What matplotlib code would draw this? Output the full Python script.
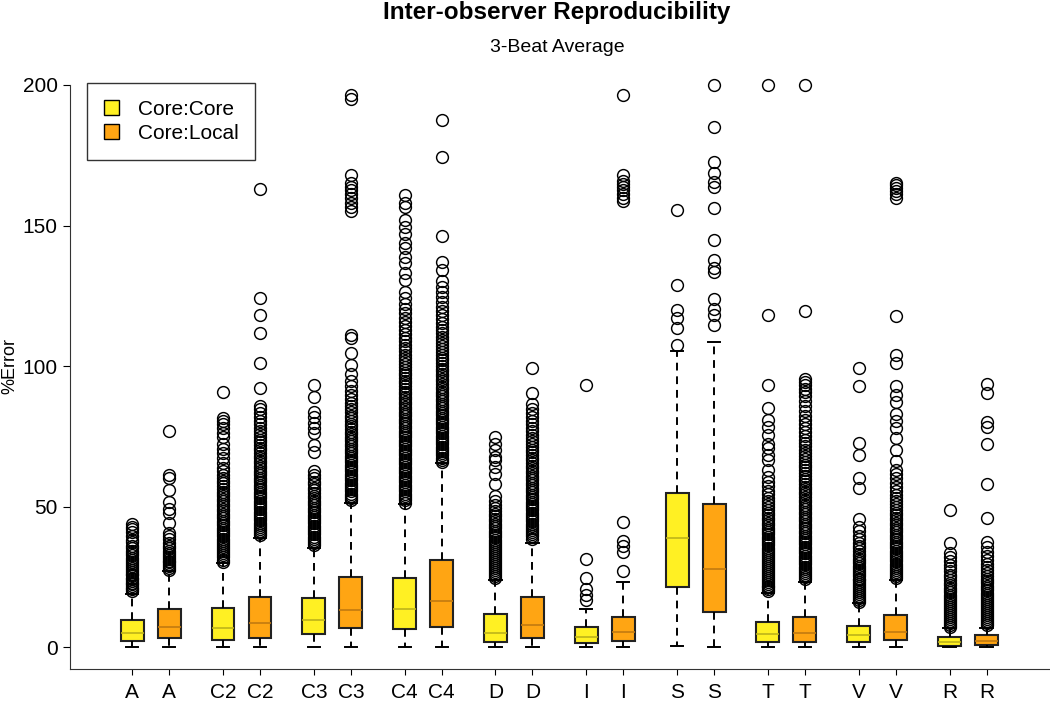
import matplotlib
matplotlib.use('Agg')
import matplotlib.pyplot as plt
from matplotlib.patches import Patch

plt.rcParams['font.family'] = ['Liberation Sans', 'DejaVu Sans']

YELLOW = '#FFF023'
ORANGE = '#FFA513'
YELLOW_MED = '#BDB31A'
ORANGE_MED = '#C27A10'

# ---------------- data ----------------
labels = ['A', 'A', 'C2', 'C2', 'C3', 'C3', 'C4', 'C4', 'D', 'D',
          'I', 'I', 'S', 'S', 'T', 'T', 'V', 'V', 'R', 'R']

q1 = [2.1, 3.2, 2.5, 3.2, 4.6, 6.8, 6.4, 7.1, 1.8, 3.2,
      1.4, 2.1, 21.4, 12.5, 1.8, 1.8, 1.8, 2.5, 0.4, 0.7]
med = [5.0, 7.1, 6.8, 8.5, 9.6, 13.2, 13.5, 16.4, 5.0, 7.8,
       3.6, 5.3, 38.8, 27.8, 4.6, 5.0, 4.3, 5.3, 1.8, 2.1]
q3 = [9.6, 13.5, 13.9, 17.8, 17.4, 24.9, 24.6, 31.0, 11.7, 17.8,
      7.1, 10.7, 54.8, 50.9, 8.9, 10.7, 7.5, 11.4, 3.6, 4.3]
whislo = [0.0, 0.0, 0.0, 0.0, 0.0, 0.0, 0.0, 0.0, 0.0, 0.0,
          0.0, 0.0, 0.4, 0.0, 0.0, 0.0, 0.0, 0.0, 0.0, 0.0]
whishi = [19.0, 27.0, 30.0, 38.8, 35.2, 51.2, 51.0, 65.5, 23.8, 37.0,
          13.5, 23.1, 105.5, 108.5, 19.2, 23.1, 15.6, 23.8, 6.8, 6.8]

A_core_fl = [20.0, 20.5, 21.1, 21.8, 22.3, 22.9, 23.6, 24.2, 24.7, 25.5, 26.1, 26.8,
             27.4, 28.1, 28.9, 29.5, 30.3, 31.0, 31.8, 32.6, 33.5, 34.2, 35.4, 36.1,
             37.5, 38.2, 39.6, 40.8, 41.9, 42.8, 43.7]
A_local_fl = [27.6, 28.2, 28.9, 29.5, 30.1, 30.8, 31.4, 32.1, 32.9, 33.6, 34.3, 35.2,
              36.0, 37.1, 38.4, 39.6, 40.5, 44.3, 47.6, 49.2, 51.5, 55.8, 60.1, 61.3, 76.9]
C2_core_fl = [30.4, 31.1, 31.9, 32.6, 33.3, 34.1, 34.8, 35.6, 36.4, 37.1, 37.9, 38.6,
              39.4, 40.2, 41.0, 41.7, 42.5, 43.3, 44.2, 45.0, 45.8, 46.7, 47.5, 48.4,
              49.3, 50.1, 51.0, 51.9, 52.8, 53.6, 54.5, 55.3, 56.4, 57.2, 58.3, 59.1,
              60.2, 61.4, 62.5, 63.8, 65.6, 67.2, 69.0, 70.5, 72.4, 74.8, 76.3, 78.1,
              79.2, 80.4, 81.6, 90.7]
C2_local_fl = [39.8, 40.6, 41.3, 42.1, 42.8, 43.6, 44.3, 45.1, 45.9, 46.6, 47.4, 48.2,
               49.0, 49.7, 50.5, 51.3, 52.1, 52.9, 53.7, 54.5, 55.3, 56.1, 56.9, 57.8,
               58.6, 59.4, 60.3, 61.1, 62.0, 62.8, 63.7, 64.5, 65.4, 66.3, 67.2, 68.1,
               69.0, 70.0, 70.9, 71.8, 72.8, 73.8, 74.9, 75.8, 76.9, 78.1, 79.3, 80.5,
               82.0, 83.4, 84.6, 85.9, 92.3, 101.2, 111.8, 118.2, 124.1, 163.0]
C3_core_fl = [36.2, 37.0, 37.8, 38.5, 39.3, 40.1, 40.8, 41.6, 42.4, 43.2, 44.0, 44.7,
              45.5, 46.3, 47.1, 47.9, 48.8, 49.6, 50.4, 51.3, 52.1, 53.0, 53.9, 54.8,
              55.8, 56.7, 57.9, 58.8, 60.1, 61.4, 62.7, 69.4, 72.0, 76.2, 77.8, 79.6,
              81.9, 83.8, 89.1, 93.2]
C3_local_fl = [52.3, 53.1, 53.9, 54.6, 55.4, 56.2, 57.0, 57.8, 58.5, 59.3, 60.1, 60.9,
               61.7, 62.5, 63.3, 64.1, 64.9, 65.7, 66.5, 67.3, 68.1, 69.0, 69.8, 70.6,
               71.5, 72.3, 73.2, 74.0, 74.9, 75.8, 76.7, 77.6, 78.5, 79.5, 80.4, 81.4,
               82.4, 83.5, 84.6, 85.8, 87.0, 88.3, 89.6, 91.2, 92.8, 94.6, 97.0, 100.2,
               104.8, 109.9, 111.0, 155.2, 156.6, 158.1, 159.9, 161.2, 162.5, 163.6,
               165.3, 167.8, 195.0, 196.3]
C4_core_fl = [51.4, 52.3, 53.0, 53.9, 54.6, 55.5, 56.2, 57.1, 57.8, 58.7, 59.4, 60.3,
              61.0, 61.9, 62.6, 63.5, 64.2, 65.1, 65.8, 66.7, 67.4, 68.3, 69.0, 69.9,
              70.6, 71.5, 72.2, 73.1, 73.8, 74.7, 75.4, 76.3, 77.0, 77.9, 78.7, 79.6,
              80.4, 81.2, 82.1, 82.9, 83.8, 84.7, 85.5, 86.4, 87.3, 88.2, 89.1, 90.0,
              90.9, 91.9, 92.8, 93.8, 94.7, 95.7, 96.7, 97.7, 98.7, 99.8, 100.8, 101.9,
              103.0, 104.1, 105.3, 106.4, 107.6, 108.9, 110.1, 111.4, 112.8, 114.2,
              115.6, 117.1, 118.7, 120.3, 122.0, 124.2, 126.5, 130.6, 133.1, 136.7,
              138.8, 142.0, 143.8, 147.0, 149.5, 152.1, 156.6, 158.0, 160.8]
C4_local_fl = [65.9, 66.7, 67.4, 68.2, 69.0, 69.7, 70.5, 71.3, 72.1, 72.9, 73.6, 74.4,
               75.2, 76.0, 76.8, 77.6, 78.4, 79.2, 80.0, 80.8, 81.6, 82.5, 83.3, 84.1,
               84.9, 85.8, 86.6, 87.5, 88.3, 89.2, 90.0, 90.9, 91.8, 92.7, 93.6, 94.5,
               95.4, 96.3, 97.2, 98.2, 99.1, 100.1, 101.0, 102.0, 103.0, 104.0, 105.0,
               106.1, 107.1, 108.2, 109.3, 110.4, 111.6, 112.8, 114.0, 115.3, 116.6,
               118.0, 119.5, 121.0, 122.7, 124.6, 126.5, 128.3, 130.1, 134.0, 136.9,
               146.4, 174.5, 187.5]
D_core_fl = [24.6, 25.3, 26.0, 26.7, 27.4, 28.1, 28.8, 29.5, 30.2, 30.9, 31.6, 32.3,
             33.0, 33.8, 34.5, 35.2, 36.0, 36.7, 37.5, 38.2, 39.0, 39.8, 40.6, 41.4,
             42.2, 43.0, 43.9, 44.7, 45.6, 46.5, 47.4, 48.4, 49.5, 50.6, 52.0, 53.8,
             57.9, 61.6, 64.0, 66.4, 67.5, 70.1, 72.3, 74.6]
D_local_fl = [38.6, 39.4, 40.1, 40.9, 41.6, 42.4, 43.1, 43.9, 44.7, 45.4, 46.2, 47.0,
              47.8, 48.6, 49.4, 50.2, 51.0, 51.8, 52.6, 53.4, 54.2, 55.1, 55.9, 56.7,
              57.6, 58.4, 59.3, 60.1, 61.0, 61.9, 62.8, 63.7, 64.6, 65.5, 66.4, 67.4,
              68.3, 69.3, 70.3, 71.3, 72.3, 73.4, 74.5, 75.6, 76.8, 78.0, 79.2, 80.5,
              81.9, 83.4, 84.8, 86.5, 90.3, 99.2]
I_core_fl = [16.7, 18.5, 20.6, 24.5, 31.3, 93.2]
I_local_fl = [27.0, 34.0, 36.1, 37.7, 44.5, 158.6, 159.8, 161.2, 162.5, 163.6, 164.6,
              165.7, 167.9, 196.4]
S_core_fl = [107.5, 113.5, 117.0, 120.1, 128.8, 155.5]
S_local_fl = [114.6, 118.0, 120.2, 124.0, 133.4, 135.0, 137.7, 144.8, 156.2, 163.7,
              165.5, 168.7, 172.6, 185.0, 200.0]
T_core_fl = [19.8, 20.5, 21.2, 21.9, 22.6, 23.3, 24.0, 24.7, 25.4, 26.1, 26.8, 27.5,
             28.2, 28.9, 29.6, 30.3, 31.0, 31.7, 32.5, 33.2, 33.9, 34.7, 35.4, 36.2,
             36.9, 37.7, 38.5, 39.3, 40.1, 40.9, 41.7, 42.5, 43.4, 44.2, 45.1, 46.0,
             46.9, 47.8, 48.8, 49.8, 50.8, 51.9, 53.0, 54.3, 55.7, 57.2, 58.8, 60.4,
             63.1, 66.5, 68.3, 70.8, 72.4, 75.4, 78.3, 80.8, 84.9, 93.2, 118.0, 200.0]
T_local_fl = [24.1, 24.9, 25.6, 26.4, 27.1, 27.9, 28.6, 29.4, 30.2, 30.9, 31.7, 32.5,
              33.3, 34.1, 34.9, 35.7, 36.5, 37.3, 38.1, 38.9, 39.7, 40.5, 41.3, 42.2,
              43.0, 43.8, 44.7, 45.5, 46.4, 47.2, 48.1, 49.0, 49.8, 50.7, 51.6, 52.5,
              53.4, 54.3, 55.2, 56.1, 57.1, 58.0, 59.0, 59.9, 60.9, 61.9, 62.9, 63.9,
              64.9, 66.0, 67.0, 68.1, 69.2, 70.3, 71.5, 72.6, 73.8, 75.1, 76.4, 77.8,
              79.2, 80.7, 82.3, 84.0, 85.8, 87.6, 89.2, 90.6, 91.8, 93.1, 94.3, 95.5,
              119.6, 200.0]
V_core_fl = [16.0, 16.7, 17.4, 18.1, 18.8, 19.5, 20.2, 20.9, 21.6, 22.3, 23.0, 23.7,
             24.4, 25.2, 25.9, 26.7, 27.4, 28.2, 29.0, 29.8, 30.6, 31.4, 32.3, 33.2,
             34.1, 35.1, 36.1, 37.2, 38.4, 39.7, 41.2, 42.9, 45.6, 56.7, 60.1, 68.3,
             72.6, 93.0, 99.2]
V_local_fl = [24.6, 25.3, 26.0, 26.8, 27.5, 28.2, 29.0, 29.7, 30.5, 31.2, 32.0, 32.8,
              33.5, 34.3, 35.1, 35.9, 36.7, 37.5, 38.3, 39.1, 39.9, 40.8, 41.6, 42.5,
              43.3, 44.2, 45.1, 46.0, 46.9, 47.8, 48.8, 49.8, 50.8, 51.9, 53.0, 54.2,
              55.5, 56.9, 58.4, 60.0, 61.6, 63.1, 66.2, 70.0, 74.4, 78.1, 80.3, 83.0,
              87.2, 89.7, 93.0, 101.2, 104.1, 117.8, 159.9, 161.2, 162.3, 163.4, 164.4,
              165.3]
R_core_fl = [7.3, 8.0, 8.7, 9.4, 10.1, 10.8, 11.5, 12.2, 12.9, 13.6, 14.3, 15.0, 15.7,
             16.4, 17.2, 17.9, 18.7, 19.5, 20.3, 21.1, 22.0, 22.9, 23.8, 24.8, 25.8,
             26.9, 28.0, 29.3, 30.7, 32.1, 33.5, 37.0, 48.8]
R_local_fl = [7.9, 8.6, 9.3, 10.0, 10.7, 11.4, 12.1, 12.8, 13.5, 14.2, 14.9, 15.6,
              16.4, 17.1, 17.9, 18.6, 19.4, 20.2, 21.0, 21.8, 22.7, 23.5, 24.4, 25.3,
              26.3, 27.3, 28.4, 29.6, 30.9, 32.3, 33.9, 35.7, 37.4, 45.9, 57.9, 72.2,
              78.3, 80.1, 90.4, 93.6]

fliers = [A_core_fl, A_local_fl, C2_core_fl, C2_local_fl, C3_core_fl, C3_local_fl,
          C4_core_fl, C4_local_fl, D_core_fl, D_local_fl, I_core_fl, I_local_fl,
          S_core_fl, S_local_fl, T_core_fl, T_local_fl, V_core_fl, V_local_fl,
          R_core_fl, R_local_fl]

# -------------------------------------------------------------

stats = []
for i in range(len(labels)):
    stats.append(dict(med=med[i], q1=q1[i], q3=q3[i], whislo=whislo[i],
                      whishi=whishi[i], fliers=fliers[i]))

# pairs: two boxes per group, wider gap between groups
positions = [(i // 2) * 2.454 + (i % 2) for i in range(len(labels))]

fig = plt.figure(figsize=(10.5, 7.01), dpi=100)
ax = fig.add_axes([70 / 1050, 1 - 669 / 701, 1 - 70 / 1050, (669 - 85) / 701])

bp = ax.bxp(stats, positions=positions, widths=0.62, capwidths=0.33,
            patch_artist=True, showfliers=True,
            boxprops=dict(edgecolor='#222222', linewidth=1.5),
            whiskerprops=dict(color='black', linestyle=(0, (4, 3)), linewidth=1.4),
            capprops=dict(color='black', linewidth=1.4),
            medianprops=dict(linewidth=1.2),
            flierprops=dict(marker='o', markerfacecolor='none', markeredgecolor='black',
                            markersize=8.5, markeredgewidth=1.05))

for i, box in enumerate(bp['boxes']):
    box.set_facecolor(YELLOW if i % 2 == 0 else ORANGE)
for i, m in enumerate(bp['medians']):
    m.set_color(YELLOW_MED if i % 2 == 0 else ORANGE_MED)
for f in bp['fliers']:
    f.set_clip_on(False)

ax.set_xlim(-1.68, 24.8)
ax.set_ylim(-7.8, 200)
ax.spines['top'].set_visible(False)
ax.spines['right'].set_visible(False)
ax.spines['left'].set_color('#333333')
ax.spines['bottom'].set_color('#333333')
ax.set_yticks([0, 50, 100, 150, 200])
ax.set_xticks(positions)
ax.set_xticklabels(labels)
ax.tick_params(axis='y', direction='out', length=5, labelsize=15, pad=4)
ax.tick_params(axis='x', direction='out', length=4, labelsize=15, pad=6)

fig.text(10 / 1050, 1 - 366 / 701, '%Error', rotation=90, ha='center', va='center',
         fontsize=13)
fig.text(557 / 1050, 1 - 13 / 701, 'Inter-observer Reproducibility', ha='center',
         va='center', fontsize=17.5, fontweight='bold')
fig.text(557 / 1050, 1 - 47 / 701, '3-Beat Average', ha='center', va='center',
         fontsize=14)

handles = [Patch(facecolor=YELLOW, edgecolor='black', label='Core:Core'),
           Patch(facecolor=ORANGE, edgecolor='black', label='Core:Local')]
leg = ax.legend(handles=handles, loc='upper left', bbox_to_anchor=(87 / 1050, 1 - 83 / 701),
                bbox_transform=fig.transFigure, fontsize=15, fancybox=False,
                edgecolor='#333333', framealpha=1, handlelength=0.75, handleheight=0.75,
                handletextpad=0.9, borderpad=0.8, labelspacing=0.25, borderaxespad=0)
leg.get_frame().set_linewidth(1.0)

fig.savefig('out.png', dpi=100)
